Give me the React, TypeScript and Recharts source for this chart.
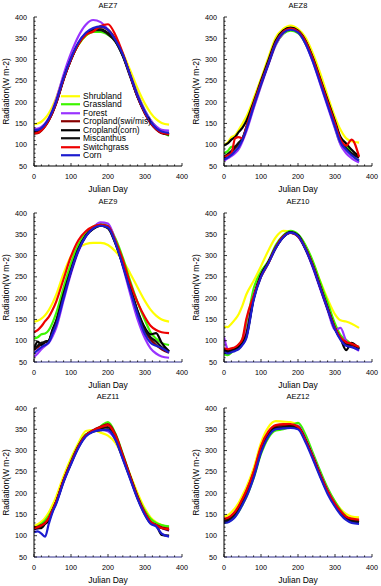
import React from 'react';
import { LineChart, Line, XAxis, YAxis, Legend } from 'recharts';

// ---------- categories / ticks ----------
const DAYS = [0, 10, 20, 30, 40, 50, 60, 80, 100, 120, 140, 160, 180, 200, 220, 240, 260, 280, 300, 315, 330, 345, 365];
const SERIES_NAMES = ['Shrubland', 'Grassland', 'Forest', 'Cropland(swi/mis)', 'Cropland(corn)', 'Miscanthus', 'Switchgrass', 'Corn'];
const SERIES_COLORS = ['#ffff00', '#3df500', '#9933ff', '#880000', '#000000', '#111111', '#ee0000', '#1c1ccf'];
const X_TICKS = [0, 20, 40, 60, 80, 100, 120, 140, 160, 180, 200, 220, 240, 260, 280, 300, 320, 340, 360, 380, 400];
const Y_TICKS = [50, 60, 70, 80, 90, 100, 110, 120, 130, 140, 150, 160, 170, 180, 190, 200, 210, 220, 230, 240, 250, 260, 270, 280, 290, 300, 310, 320, 330, 340, 350, 360, 370, 380, 390, 400];
const PANEL_TITLES = ['AEZ7', 'AEZ8', 'AEZ9', 'AEZ10', 'AEZ11', 'AEZ12'];

// ---------- AEZ7 ----------
const aez7Shrubland = [148, 150, 154, 162, 174, 190, 210, 260, 302, 335, 356, 367, 368, 360, 345, 315, 275, 232, 196, 175, 160, 151, 147];
const aez7Grassland = [128, 130, 136, 146, 160, 178, 200, 255, 300, 335, 356, 365, 365, 358, 343, 310, 265, 218, 180, 158, 142, 130, 121];
const aez7Forest = [137, 138, 142, 150, 163, 182, 207, 265, 315, 355, 382, 393, 388, 370, 345, 310, 265, 218, 180, 158, 143, 135, 133];
const aez7CropSwiMis = [126, 127, 133, 143, 157, 175, 197, 253, 300, 336, 360, 371, 376, 370, 348, 312, 262, 212, 173, 151, 136, 127, 124];
const aez7CropCorn = [130, 131, 136, 145, 158, 176, 198, 254, 300, 337, 360, 370, 371, 362, 344, 310, 262, 213, 175, 153, 138, 128, 124];
const aez7Miscanthus = [132, 133, 138, 147, 160, 178, 200, 256, 302, 338, 360, 369, 369, 360, 342, 308, 260, 212, 174, 153, 138, 129, 125];
const aez7Switchgrass = [127, 128, 134, 144, 158, 176, 198, 254, 300, 336, 358, 366, 379, 383, 358, 315, 263, 213, 174, 152, 137, 128, 125];
const aez7Corn = [134, 135, 139, 148, 161, 179, 201, 257, 303, 340, 363, 374, 378, 370, 346, 312, 263, 214, 176, 154, 139, 131, 128];

// ---------- AEZ8 ----------
const aez8Shrubland = [100, 105, 118, 122, 135, 150, 165, 208, 255, 305, 352, 372, 380, 372, 352, 315, 268, 215, 165, 135, 115, 108, 105];
const aez8Grassland = [80, 85, 95, 96, 97, 115, 135, 188, 240, 290, 335, 360, 368, 362, 338, 298, 248, 195, 140, 103, 98, 78, 60];
const aez8Forest = [62, 68, 73, 80, 90, 108, 130, 185, 238, 288, 335, 362, 372, 365, 338, 295, 243, 190, 138, 100, 80, 68, 58];
const aez8CropSwiMis = [70, 76, 82, 92, 103, 112, 138, 193, 243, 291, 339, 364, 372, 365, 342, 300, 250, 198, 148, 110, 90, 78, 70];
const aez8CropCorn = [98, 103, 112, 118, 130, 140, 155, 200, 250, 298, 345, 368, 375, 368, 345, 305, 255, 205, 155, 118, 103, 88, 72];
const aez8Miscanthus = [72, 78, 85, 95, 105, 115, 140, 195, 245, 292, 340, 365, 373, 366, 343, 302, 252, 200, 150, 112, 92, 80, 70];
const aez8Switchgrass = [70, 75, 80, 115, 118, 115, 140, 195, 245, 292, 340, 365, 373, 366, 343, 302, 252, 200, 150, 112, 98, 112, 72];
const aez8Corn = [65, 70, 76, 85, 95, 112, 135, 190, 242, 290, 338, 363, 370, 364, 338, 296, 245, 193, 142, 105, 88, 75, 63];

// ---------- AEZ9 ----------
const aez9Shrubland = [145, 147, 152, 160, 172, 188, 208, 258, 298, 318, 327, 330, 330, 325, 310, 288, 258, 225, 193, 173, 159, 150, 145];
const aez9Grassland = [105, 108, 115, 117, 125, 142, 165, 225, 282, 326, 354, 368, 375, 370, 340, 295, 240, 190, 148, 120, 105, 95, 90];
const aez9Forest = [62, 70, 80, 88, 95, 110, 130, 195, 258, 310, 345, 366, 378, 375, 335, 275, 210, 150, 105, 82, 70, 63, 60];
const aez9CropSwiMis = [78, 85, 92, 96, 100, 120, 142, 205, 263, 313, 347, 365, 372, 368, 332, 280, 222, 167, 122, 103, 90, 80, 72];
const aez9CropCorn = [80, 98, 90, 98, 100, 126, 147, 210, 267, 316, 347, 363, 370, 365, 330, 280, 225, 170, 130, 115, 118, 95, 75];
const aez9Miscanthus = [80, 88, 95, 97, 100, 123, 145, 207, 265, 314, 346, 363, 370, 364, 328, 278, 222, 168, 125, 108, 98, 85, 75];
const aez9Switchgrass = [120, 125, 134, 146, 156, 172, 192, 245, 298, 336, 357, 368, 372, 368, 335, 290, 235, 190, 155, 135, 125, 120, 118];
const aez9Corn = [70, 78, 85, 90, 96, 116, 137, 200, 262, 312, 345, 364, 370, 366, 330, 276, 218, 162, 115, 95, 88, 83, 72];

// ---------- AEZ10 ----------
const aez10Shrubland = [133, 132, 140, 150, 163, 183, 208, 240, 275, 312, 343, 358, 356, 345, 322, 285, 240, 198, 162, 148, 145, 140, 130];
const aez10Grassland = [68, 66, 72, 80, 90, 105, 135, 222, 262, 287, 325, 347, 358, 350, 325, 287, 238, 190, 140, 113, 102, 92, 85];
const aez10Forest = [108, 80, 75, 80, 90, 100, 120, 205, 252, 285, 318, 343, 355, 345, 315, 272, 222, 172, 125, 130, 100, 88, 76];
const aez10CropSwiMis = [80, 78, 80, 83, 88, 98, 115, 200, 253, 284, 319, 344, 354, 346, 317, 276, 226, 176, 128, 105, 92, 90, 82];
const aez10CropCorn = [78, 75, 78, 80, 85, 95, 110, 200, 255, 285, 320, 345, 355, 348, 318, 278, 228, 178, 130, 105, 78, 95, 80];
const aez10Miscanthus = [75, 72, 75, 78, 82, 92, 108, 198, 252, 283, 318, 343, 354, 346, 316, 275, 225, 175, 128, 105, 90, 92, 82];
const aez10Switchgrass = [82, 80, 82, 85, 92, 105, 150, 205, 250, 282, 320, 345, 353, 345, 318, 277, 226, 176, 130, 108, 97, 93, 85];
const aez10Corn = [72, 70, 73, 76, 80, 90, 105, 195, 250, 282, 318, 343, 354, 346, 316, 274, 224, 174, 126, 102, 88, 85, 78];

// ---------- AEZ11 ----------
const aez11Shrubland = [122, 127, 133, 142, 155, 172, 192, 240, 282, 318, 346, 348, 342, 335, 318, 285, 243, 200, 163, 143, 132, 125, 120];
const aez11Grassland = [118, 122, 128, 136, 147, 162, 180, 230, 275, 312, 338, 345, 357, 367, 340, 292, 240, 193, 158, 140, 130, 125, 122];
const aez11Forest = [115, 117, 120, 128, 138, 158, 178, 228, 270, 308, 334, 346, 350, 345, 325, 283, 236, 190, 152, 132, 124, 118, 112];
const aez11CropSwiMis = [120, 121, 125, 130, 140, 160, 180, 230, 272, 310, 336, 348, 356, 362, 338, 290, 240, 192, 153, 133, 125, 120, 117];
const aez11CropCorn = [115, 118, 118, 128, 135, 158, 178, 228, 270, 308, 335, 345, 348, 350, 328, 282, 235, 188, 150, 130, 125, 102, 100];
const aez11Miscanthus = [120, 118, 122, 130, 140, 160, 180, 230, 272, 310, 336, 346, 352, 355, 332, 285, 238, 190, 152, 132, 124, 118, 113];
const aez11Switchgrass = [118, 120, 124, 130, 142, 160, 180, 230, 272, 310, 336, 347, 355, 360, 336, 288, 238, 190, 153, 133, 125, 118, 115];
const aez11Corn = [108, 110, 105, 98, 128, 155, 175, 226, 268, 306, 333, 344, 348, 348, 326, 280, 233, 186, 148, 128, 122, 105, 98];

// ---------- AEZ12 ----------
const aez12Shrubland = [145, 148, 155, 165, 178, 195, 213, 258, 318, 355, 369, 368, 367, 358, 330, 290, 248, 210, 180, 163, 151, 145, 143];
const aez12Grassland = [130, 132, 137, 145, 157, 173, 190, 235, 292, 330, 347, 350, 357, 365, 338, 295, 252, 212, 180, 160, 145, 135, 132];
const aez12Forest = [135, 137, 143, 152, 165, 182, 200, 245, 305, 340, 355, 357, 360, 358, 328, 288, 245, 206, 175, 157, 143, 137, 135];
const aez12CropSwiMis = [138, 140, 146, 155, 168, 185, 203, 248, 306, 342, 357, 360, 360, 356, 326, 286, 244, 205, 174, 156, 143, 138, 136];
const aez12CropCorn = [133, 135, 140, 148, 160, 177, 195, 240, 298, 336, 352, 354, 358, 355, 325, 285, 242, 203, 172, 154, 140, 134, 132];
const aez12Miscanthus = [134, 136, 141, 149, 161, 178, 196, 241, 299, 337, 353, 355, 356, 353, 324, 284, 241, 202, 171, 153, 140, 134, 133];
const aez12Switchgrass = [140, 142, 148, 157, 170, 187, 205, 250, 310, 345, 360, 362, 362, 356, 325, 285, 243, 205, 175, 158, 145, 140, 138];
const aez12Corn = [130, 131, 136, 144, 157, 173, 190, 236, 295, 333, 350, 352, 353, 350, 320, 280, 238, 198, 168, 150, 137, 130, 128];

const PANEL_SERIES = [
  [aez7Shrubland, aez7Grassland, aez7Forest, aez7CropSwiMis, aez7CropCorn, aez7Miscanthus, aez7Switchgrass, aez7Corn],
  [aez8Shrubland, aez8Grassland, aez8Forest, aez8CropSwiMis, aez8CropCorn, aez8Miscanthus, aez8Switchgrass, aez8Corn],
  [aez9Shrubland, aez9Grassland, aez9Forest, aez9CropSwiMis, aez9CropCorn, aez9Miscanthus, aez9Switchgrass, aez9Corn],
  [aez10Shrubland, aez10Grassland, aez10Forest, aez10CropSwiMis, aez10CropCorn, aez10Miscanthus, aez10Switchgrass, aez10Corn],
  [aez11Shrubland, aez11Grassland, aez11Forest, aez11CropSwiMis, aez11CropCorn, aez11Miscanthus, aez11Switchgrass, aez11Corn],
  [aez12Shrubland, aez12Grassland, aez12Forest, aez12CropSwiMis, aez12CropCorn, aez12Miscanthus, aez12Switchgrass, aez12Corn],
];

const FONT = '"Liberation Sans", Arial, Helvetica, sans-serif';
const PANEL_POS = [
  { left: 0, top: 0 },
  { left: 190, top: 0 },
  { left: 0, top: 196 },
  { left: 190, top: 196 },
  { left: 0, top: 391 },
  { left: 190, top: 391 },
];

const BottomTick = (props: any) => {
  const { x, y, payload } = props;
  const v = payload.value;
  const major = v % 100 === 0;
  return (
    <g>
      <line x1={x} x2={x} y1={y} y2={y - (major ? 3 : 1.6)} stroke="#000" strokeWidth={0.8} />
      {major && (
        <text x={x} y={y + 12.5} textAnchor="middle" fontSize={7.2} fontFamily={FONT} fill="#000">
          {v}
        </text>
      )}
    </g>
  );
};

const TopTick = (props: any) => {
  const { x, y, payload } = props;
  const major = payload.value % 100 === 0;
  return <line x1={x} x2={x} y1={y} y2={y + (major ? 3 : 1.6)} stroke="#000" strokeWidth={0.8} />;
};

const LeftTick = (props: any) => {
  const { x, y, payload } = props;
  const v = payload.value;
  const major = v % 50 === 0;
  return (
    <g>
      <line x1={x} x2={x + (major ? 3 : 1.6)} y1={y} y2={y} stroke="#000" strokeWidth={0.8} />
      {major && (
        <text x={x - 7} y={y + 2.5} textAnchor="end" fontSize={7.2} fontFamily={FONT} fill="#000">
          {v}
        </text>
      )}
    </g>
  );
};

const RightTick = (props: any) => {
  const { x, y, payload } = props;
  const major = payload.value % 50 === 0;
  return <line x1={x} x2={x - (major ? 3 : 1.6)} y1={y} y2={y} stroke="#000" strokeWidth={0.8} />;
};

const LegendBox = () => (
  <div style={{ fontFamily: FONT, fontSize: 8.5, lineHeight: '8.5px', color: '#000' }}>
    {SERIES_NAMES.map((n, i) => (
      <div key={n} style={{ display: 'flex', alignItems: 'center', height: 8.5, whiteSpace: 'nowrap' }}>
        <svg width={22} height={8.5} style={{ display: 'block' }}>
          <line x1={0} x2={19} y1={4.25} y2={4.25} stroke={SERIES_COLORS[i]} strokeWidth={2.2} />
        </svg>
        <span>{n}</span>
      </div>
    ))}
  </div>
);

const Panel = ({ idx }: { idx: number }) => {
  const series = PANEL_SERIES[idx];
  const rows = DAYS.map((d, i) => {
    const r: any = { day: d };
    series.forEach((s, k) => {
      r['s' + k] = s[i];
    });
    return r;
  });
  const bottomColor = idx >= 2 ? '#2e2e8c' : '#000';
  return (
    <div style={{ position: 'absolute', left: PANEL_POS[idx].left, top: PANEL_POS[idx].top, width: 190, height: 200 }}>
      <div
        style={{
          position: 'absolute',
          left: 34,
          width: 148,
          top: 1,
          height: 9,
          lineHeight: '9px',
          textAlign: 'center',
          fontSize: 7.5,
          fontFamily: FONT,
          color: '#000',
          zIndex: 2,
        }}
      >
        {PANEL_TITLES[idx]}
      </div>
      <LineChart width={190} height={200} data={rows} margin={{ top: 17, right: 8, left: 0, bottom: 0 }}>
        <XAxis
          xAxisId="b"
          dataKey="day"
          type="number"
          domain={[0, 400]}
          ticks={X_TICKS}
          interval={0}
          height={34}
          tickLine={false}
          tickSize={0}
          tickMargin={0}
          allowDataOverflow
          axisLine={{ stroke: bottomColor, strokeWidth: 1 }}
          tick={<BottomTick />}
          label={(p: any) => {
            const vb = p.viewBox || {};
            return (
              <text x={vb.x + vb.width / 2} y={vb.y + 25.5} textAnchor="middle" fontSize={8.5} fontFamily={FONT} fill="#000">
                Julian Day
              </text>
            );
          }}
        />
        <XAxis
          xAxisId="t"
          orientation="top"
          dataKey="day"
          type="number"
          domain={[0, 400]}
          ticks={X_TICKS}
          interval={0}
          height={0}
          tickLine={false}
          tickSize={0}
          tickMargin={0}
          allowDataOverflow
          axisLine={{ stroke: '#000', strokeWidth: 1 }}
          tick={<TopTick />}
        />
        <YAxis
          yAxisId="l"
          type="number"
          domain={[50, 400]}
          ticks={Y_TICKS}
          interval={0}
          width={34}
          tickLine={false}
          tickSize={0}
          tickMargin={0}
          allowDataOverflow
          axisLine={{ stroke: '#000', strokeWidth: 1 }}
          tick={<LeftTick />}
          label={(p: any) => {
            const vb = p.viewBox || {};
            const cx = vb.x + 9;
            const cy = vb.y + vb.height / 2;
            return (
              <text x={cx} y={cy} transform={`rotate(-90, ${cx}, ${cy})`} textAnchor="middle" fontSize={8.5} fontFamily={FONT} fill="#000">
                Radiation(W m-2)
              </text>
            );
          }}
        />
        <YAxis
          yAxisId="r"
          orientation="right"
          type="number"
          domain={[50, 400]}
          ticks={Y_TICKS}
          interval={0}
          width={0}
          tickLine={false}
          tickSize={0}
          tickMargin={0}
          allowDataOverflow
          axisLine={{ stroke: '#000', strokeWidth: 1 }}
          tick={<RightTick />}
        />
        {series.map((_, k) => (
          <Line
            key={k}
            xAxisId="b"
            yAxisId="l"
            type="monotone"
            dataKey={'s' + k}
            name={SERIES_NAMES[k]}
            stroke={SERIES_COLORS[k]}
            strokeWidth={2.2}
            dot={false}
            isAnimationActive={false}
          />
        ))}
        {idx === 0 && (
          <Legend
            layout="vertical"
            align="center"
            verticalAlign="middle"
            content={() => <LegendBox />}
            wrapperStyle={{ position: 'absolute', left: 61, top: 91.5, width: 120, height: 70 }}
          />
        )}
      </LineChart>
    </div>
  );
}

export default function App() {
  return (
    <div style={{ position: 'absolute', left: 0, top: 0, width: 381, height: 586, background: '#fff', fontFamily: FONT, overflow: 'hidden' }}>
      {PANEL_TITLES.map((_, i) => (
        <Panel key={i} idx={i} />
      ))}
    </div>
  );
}
